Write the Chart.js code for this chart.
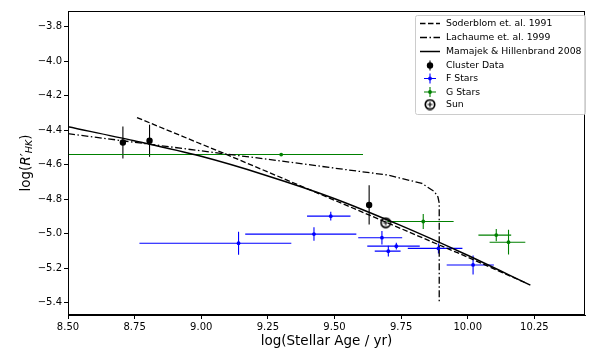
<!DOCTYPE html>
<html>
<head>
<meta charset="utf-8">
<script src="https://cdn.jsdelivr.net/npm/chart.js@4.4.0/dist/chart.umd.min.js"></script>
<style>
  html, body { margin: 0; padding: 0; background: #fff; }
</style>
</head>
<body>
<canvas id="chart" width="592" height="351"></canvas>
<script>
// values
const xTicks = [8.50, 8.75, 9.00, 9.25, 9.50, 9.75, 10.00, 10.25];
const yTicks = [-5.4, -5.2, -5.0, -4.8, -4.6, -4.4, -4.2, -4.0, -3.8];

const soderblomAge = [8.759, 9.091, 9.552, 9.961, 10.221];
const soderblomR = [-4.328, -4.539, -4.841, -5.111, -5.288];

const lachaumeAge = [8.50, 8.996, 9.273, 9.531, 9.700, 9.828, 9.875, 9.888, 9.893, 9.893];
const lachaumeR = [-4.421, -4.520, -4.574, -4.627, -4.661, -4.709, -4.757, -4.787, -4.823, -5.40];

const mamajekAge = [8.50, 8.748, 8.996, 9.244, 9.491, 9.739, 9.987, 10.235];
const mamajekR = [-4.381, -4.462, -4.551, -4.663, -4.792, -4.947, -5.117, -5.299];

const clusterAge = [8.706, 8.806, 9.630];
const clusterR = [-4.472, -4.462, -4.834];
const clusterErr = [0.093, 0.093, 0.114];

const fAge = [9.140, 9.423, 9.486, 9.678, 9.732, 9.702, 9.890, 10.020];
const fR = [-5.056, -5.003, -4.899, -5.024, -5.073, -5.102, -5.086, -5.182];
const fAgeLo = [8.768, 9.165, 9.397, 9.589, 9.623, 9.651, 9.775, 9.921];
const fAgeHi = [9.338, 9.582, 9.560, 9.754, 9.820, 9.748, 9.980, 10.098];
const fErr = [0.067, 0.039, 0.025, 0.039, 0.020, 0.031, 0.029, 0.055];

const gAge = [9.300, 9.833, 10.107, 10.153];
const gR = [-4.542, -4.930, -5.009, -5.050];
const gAgeLo = [8.0, 9.698, 10.040, 10.082];
const gAgeHi = [9.607, 9.947, 10.163, 10.216];
const gErr = [0.004, 0.044, 0.036, 0.072];

const sunAge = [9.692];
const sunR = [-4.937];

const FONT = "'DejaVu Sans', sans-serif";
const toPoints = (xs, ys) => xs.map((v, i) => ({ x: v, y: ys[i] }));

function sunMarker(size) {
  const c = document.createElement("canvas");
  c.width = c.height = size;
  const g = c.getContext("2d");
  const r = size / 2;
  g.strokeStyle = "#000";
  g.lineWidth = 1.7;
  g.beginPath();
  g.arc(r, r, r - 1.3, 0, Math.PI * 2);
  g.stroke();
  g.lineWidth = 1.2;
  g.beginPath();
  g.moveTo(r - 2.5, r); g.lineTo(r + 2.5, r);
  g.moveTo(r, r - 2.5); g.lineTo(r, r + 2.5);
  g.stroke();
  return c;
}
const sunImg = sunMarker(12);

// error bars drawn through the chart scales
const errorBars = {
  id: "errorBars",
  beforeDatasetsDraw(chart) {
    const { ctx, chartArea: a, scales: { x, y } } = chart;
    ctx.save();
    ctx.beginPath();
    ctx.rect(a.left, a.top, a.right - a.left, a.bottom - a.top);
    ctx.clip();
    chart.data.datasets.forEach(ds => {
      if (!ds.yerr) return;
      ctx.strokeStyle = ds.barColor;
      ctx.lineWidth = 1.1;
      ds.data.forEach((p, i) => {
        const px = x.getPixelForValue(p.x);
        const py = y.getPixelForValue(p.y);
        ctx.beginPath();
        ctx.moveTo(px, y.getPixelForValue(p.y - ds.yerr[i]));
        ctx.lineTo(px, y.getPixelForValue(p.y + ds.yerr[i]));
        if (ds.xlo) {
          ctx.moveTo(x.getPixelForValue(ds.xlo[i]), py);
          ctx.lineTo(x.getPixelForValue(ds.xhi[i]), py);
        }
        ctx.stroke();
      });
    });
    ctx.restore();
  }
};

// frame, y label with subscript, and the boxed legend
const decorations = {
  id: "decorations",
  afterDraw(chart) {
    const { ctx, chartArea: a } = chart;
    ctx.save();
    ctx.strokeStyle = "#000";
    ctx.lineWidth = 1;
    ctx.strokeRect(a.left + 0.5, a.top + 0.5, a.right - a.left - 1, a.bottom - a.top - 1);

    // y axis title: log(R'_HK)
    ctx.translate(26, (a.top + a.bottom) / 2);
    ctx.rotate(-Math.PI / 2);
    ctx.fillStyle = "#000";
    ctx.textBaseline = "middle";
    const parts = [
      { t: "log(", f: "13.5px " + FONT, dy: 0 },
      { t: "R", f: "italic 13.5px " + FONT, dy: 0 },
      { t: "\u2032", f: "13.5px " + FONT, dy: 0 },
      { t: "HK", f: "italic 9.5px " + FONT, dy: 3.5 },
      { t: ")", f: "13.5px " + FONT, dy: 0 }
    ];
    let total = 0;
    parts.forEach(p => { ctx.font = p.f; p.w = ctx.measureText(p.t).width; total += p.w; });
    let cx = -total / 2;
    parts.forEach(p => { ctx.font = p.f; ctx.fillText(p.t, cx, p.dy); cx += p.w; });
    ctx.restore();

    // legend
    ctx.save();
    const bx = 415.5, by = 15.5, bw = 170, bh = 99;
    ctx.fillStyle = "rgba(255,255,255,0.85)";
    ctx.strokeStyle = "#cccccc";
    ctx.lineWidth = 1;
    ctx.beginPath();
    ctx.roundRect(bx, by, bw, bh, 2);
    ctx.fill();
    ctx.stroke();

    const rowY = [23.5, 37.5, 51.5, 65.5, 78.5, 92, 104.5];
    ctx.font = "9.3px " + FONT;
    ctx.textBaseline = "middle";
    chart.data.datasets.forEach((ds, i) => {
      const yy = rowY[i];
      ctx.save();
      if (ds.showLine) {
        ctx.strokeStyle = "#000";
        ctx.lineWidth = ds.borderWidth;
        ctx.setLineDash(ds.borderDash || []);
        ctx.beginPath();
        ctx.moveTo(420, yy);
        ctx.lineTo(440, yy);
        ctx.stroke();
      } else if (ds.pointStyle === sunImg) {
        ctx.drawImage(sunImg, 430 - 6, yy - 6);
      } else {
        ctx.strokeStyle = ds.barColor;
        ctx.lineWidth = 1.1;
        ctx.beginPath();
        ctx.moveTo(430, yy - 5);
        ctx.lineTo(430, yy + 5);
        if (ds.xlo) { ctx.moveTo(424, yy); ctx.lineTo(436, yy); }
        ctx.stroke();
        ctx.fillStyle = ds.backgroundColor;
        ctx.beginPath();
        ctx.arc(430, yy, ds.pointRadius, 0, Math.PI * 2);
        ctx.fill();
      }
      ctx.restore();
      ctx.fillStyle = "#000";
      ctx.fillText(ds.label, 446, yy + 0.5);
    });
    ctx.restore();
  }
};

const ctx = document.getElementById("chart").getContext("2d");
new Chart(ctx, {
  type: "scatter",
  data: {
    datasets: [
      {
        label: "Soderblom et. al. 1991",
        data: toPoints(soderblomAge, soderblomR),
        showLine: true,
        borderColor: "#000",
        borderWidth: 1.3,
        borderDash: [5.5, 2.5],
        pointRadius: 0,
        tension: 0
      },
      {
        label: "Lachaume et. al. 1999",
        data: toPoints(lachaumeAge, lachaumeR),
        showLine: true,
        borderColor: "#000",
        borderWidth: 1.3,
        borderDash: [7, 2.5, 1.5, 2.5],
        pointRadius: 0,
        tension: 0
      },
      {
        label: "Mamajek & Hillenbrand 2008",
        data: toPoints(mamajekAge, mamajekR),
        showLine: true,
        borderColor: "#000",
        borderWidth: 1.5,
        pointRadius: 0,
        cubicInterpolationMode: "monotone"
      },
      {
        label: "Cluster Data",
        data: toPoints(clusterAge, clusterR),
        yerr: clusterErr,
        barColor: "#000",
        backgroundColor: "#000",
        borderColor: "#000",
        pointRadius: 3.2,
        pointBorderWidth: 0
      },
      {
        label: "F Stars",
        data: toPoints(fAge, fR),
        xlo: fAgeLo,
        xhi: fAgeHi,
        yerr: fErr,
        barColor: "#0000ff",
        backgroundColor: "#0000ff",
        borderColor: "#0000ff",
        pointRadius: 1.9,
        pointBorderWidth: 0
      },
      {
        label: "G Stars",
        data: toPoints(gAge, gR),
        xlo: gAgeLo,
        xhi: gAgeHi,
        yerr: gErr,
        barColor: "#008000",
        backgroundColor: "#008000",
        borderColor: "#008000",
        pointRadius: 1.9,
        pointBorderWidth: 0
      },
      {
        label: "Sun",
        data: toPoints(sunAge, sunR),
        pointStyle: sunImg,
        pointRadius: 6
      }
    ]
  },
  options: {
    responsive: false,
    animation: false,
    events: [],
    layout: { padding: { top: 11, right: 4, left: 0, bottom: 0 } },
    plugins: {
      legend: { display: false },
      tooltip: { enabled: false }
    },
    scales: {
      x: {
        type: "linear",
        min: 8.5,
        max: 10.44,
        afterFit: s => { s.height = 36; },
        afterBuildTicks: s => { s.ticks = xTicks.map(v => ({ value: v })); },
        ticks: {
          callback: v => v.toFixed(2),
          font: { family: FONT, size: 10 },
          color: "#000",
          padding: 2,
          maxRotation: 0,
          autoSkip: false
        },
        grid: { drawOnChartArea: false, tickLength: 4, color: "#000" },
        border: { color: "#000", width: 1 },
        title: {
          display: true,
          text: "log(Stellar Age / yr)",
          font: { family: FONT, size: 13.5 },
          color: "#000",
          padding: { top: 0, bottom: 1 }
        }
      },
      y: {
        type: "linear",
        min: -5.472,
        max: -3.710,
        afterFit: s => { s.width = 68; },
        afterBuildTicks: s => { s.ticks = yTicks.map(v => ({ value: v })); },
        ticks: {
          callback: v => v.toFixed(1).replace("-", "\u2212"),
          font: { family: FONT, size: 10 },
          color: "#000",
          padding: 2,
          autoSkip: false
        },
        grid: { drawOnChartArea: false, tickLength: 4, color: "#000" },
        border: { color: "#000", width: 1 }
      }
    }
  },
  plugins: [errorBars, decorations]
});
</script>
</body>
</html>
